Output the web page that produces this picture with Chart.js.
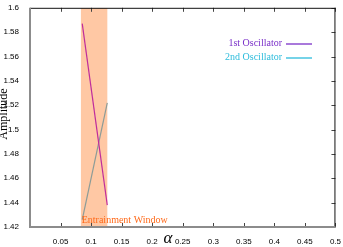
<!DOCTYPE html>
<html lang="en">
<head>
  <meta charset="UTF-8">
  <title>Entrainment Window</title>
  <script src="https://cdn.jsdelivr.net/npm/chart.js"></script>
  <style>
    html, body { margin: 0; padding: 0; background: #fff; }
    #wrap { width: 343px; height: 247px; }
  </style>
</head>
<body>
  <div id="wrap"><canvas id="ampChart" width="343" height="247"></canvas></div>
  <script>
    // values
    const alphaPts = [0.0855, 0.1265];
    const osc1 = [1.587, 1.438];
    const osc2 = [1.426, 1.522];
    const windowRange = [0.083, 0.127];
    const xTicks = [0.05, 0.1, 0.15, 0.2, 0.25, 0.3, 0.35, 0.4, 0.45, 0.5];
    const yTicks = [1.42, 1.44, 1.46, 1.48, 1.5, 1.52, 1.54, 1.56, 1.58, 1.6];
    const seriesNames = ['1st Oscillator', '2nd Oscillator'];
    const legendColors = ['#7a30c8', '#2cbcdc'];
    const lineColors = ['#c02c9c', '#8c9c98'];

    const tickFont = { family: "'Liberation Sans Narrow', 'Liberation Sans', sans-serif", size: 8 };

    // inward tick marks, legend and axis titles
    const decorations = {
      id: 'decorations',
      afterDraw(chart) {
        const ctx = chart.ctx;
        const a = chart.chartArea;
        const xs = chart.scales.x, ys = chart.scales.y;
        ctx.save();
        ctx.strokeStyle = '#444';
        ctx.lineWidth = 1;
        ctx.beginPath();
        xTicks.forEach(v => {
          const px = Math.round(xs.getPixelForValue(v)) + 0.5;
          ctx.moveTo(px, a.bottom); ctx.lineTo(px, a.bottom - 4);
          ctx.moveTo(px, a.top); ctx.lineTo(px, a.top + 4);
        });
        yTicks.forEach(v => {
          const py = Math.round(ys.getPixelForValue(v)) + 0.5;
          ctx.moveTo(a.right, py); ctx.lineTo(a.right - 4, py);
        });
        ctx.stroke();

        // border: top/right dark thin, left/bottom gray thick
        ctx.strokeStyle = '#111';
        ctx.beginPath();
        ctx.moveTo(a.left, a.top + 0.5); ctx.lineTo(a.right, a.top + 0.5);
        ctx.moveTo(a.right - 0.5, a.top); ctx.lineTo(a.right - 0.5, a.bottom);
        ctx.stroke();
        ctx.strokeStyle = '#8c8c8c';
        ctx.lineWidth = 2;
        ctx.beginPath();
        ctx.moveTo(a.left, a.top); ctx.lineTo(a.left, a.bottom);
        ctx.lineTo(a.right, a.bottom);
        ctx.stroke();

        // window label
        ctx.fillStyle = '#ff6a1a';
        ctx.font = "10px 'Liberation Serif', serif";
        ctx.textBaseline = 'alphabetic';
        ctx.textAlign = 'left';
        ctx.fillText('Entrainment Window', xs.getPixelForValue(windowRange[0]) + 1, a.bottom - 4);

        // legend (text then line sample)
        ctx.font = "10px 'Liberation Serif', serif";
        ctx.textAlign = 'right';
        ctx.textBaseline = 'middle';
        ctx.lineWidth = 1.3;
        seriesNames.forEach((name, i) => {
          const y = 43 + i * 14;
          ctx.fillStyle = legendColors[i];
          ctx.fillText(name, 282, y);
          ctx.strokeStyle = legendColors[i];
          ctx.beginPath();
          ctx.moveTo(286, y + 1); ctx.lineTo(312, y + 1);
          ctx.stroke();
        });

        // axis titles
        ctx.fillStyle = '#000';
        ctx.textAlign = 'center';
        ctx.font = "italic 17px 'Liberation Serif', serif";
        ctx.fillText('\u03b1', 168, 239);
        ctx.font = "12px 'Liberation Serif', serif";
        ctx.translate(4, 114);
        ctx.rotate(-Math.PI / 2);
        ctx.fillText('Amplitude', 0, 0);
        ctx.restore();
      }
    };

    const toPts = ys => alphaPts.map((x, i) => ({ x: x, y: ys[i] }));

    new Chart(document.getElementById('ampChart').getContext('2d'), {
      type: 'line',
      data: {
        datasets: [
          { label: seriesNames[0], data: toPts(osc1), borderColor: lineColors[0], borderWidth: 1.2, pointRadius: 0, fill: false },
          { label: seriesNames[1], data: toPts(osc2), borderColor: lineColors[1], borderWidth: 1.2, pointRadius: 0, fill: false },
          {
            label: 'window',
            data: windowRange.map(x => ({ x: x, y: yTicks[yTicks.length - 1] })),
            fill: 'start',
            backgroundColor: '#ffc8a4',
            borderWidth: 0,
            pointRadius: 0
          }
        ]
      },
      options: {
        responsive: false,
        animation: false,
        layout: { padding: { top: 4, right: 6, left: 0, bottom: 0 } },
        plugins: { legend: { display: false }, tooltip: { enabled: false } },
        scales: {
          x: {
            type: 'linear', min: 0, max: 0.5,
            grid: { display: false },
            border: { display: false },
            afterBuildTicks: s => { s.ticks = xTicks.map(v => ({ value: v })); },
            afterFit: s => { s.height = 20; },
            ticks: { font: tickFont, color: '#000', padding: 2, maxRotation: 0, autoSkip: false, callback: v => String(v) }
          },
          y: {
            type: 'linear', min: 1.42, max: 1.6,
            grid: { display: false },
            border: { display: false },
            afterBuildTicks: s => { s.ticks = yTicks.map(v => ({ value: v })); },
            afterFit: s => { s.width = 30; },
            ticks: { font: tickFont, color: '#000', padding: 3, autoSkip: false, callback: v => String(v) }
          }
        }
      },
      plugins: [decorations]
    });
  </script>
</body>
</html>
